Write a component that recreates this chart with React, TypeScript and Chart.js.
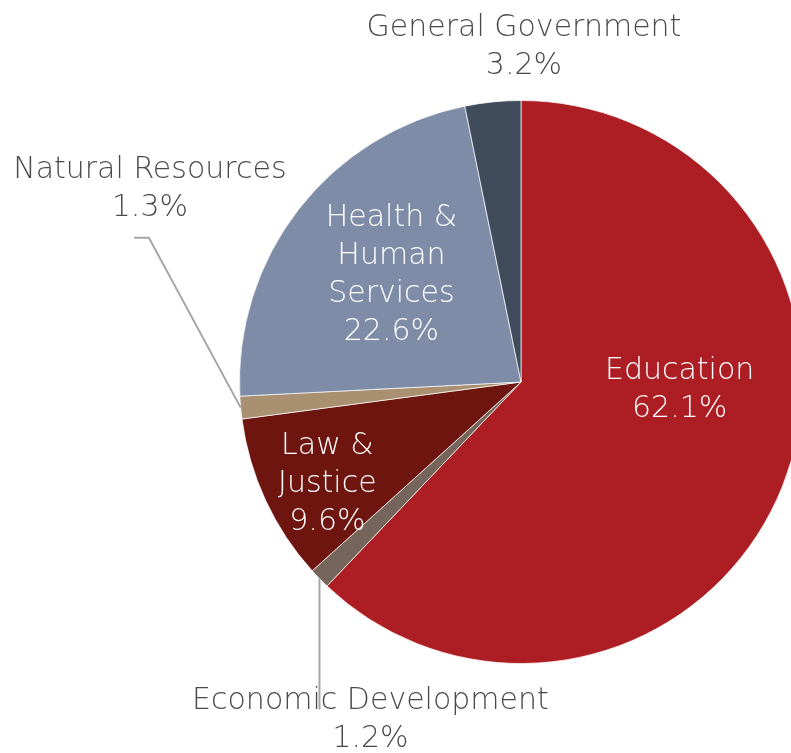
import React, { useEffect, useRef } from "react";
import { Chart, registerables } from "chart.js";

Chart.register(...registerables);

const categories = [
  "Education",
  "Economic Development",
  "Law & Justice",
  "Natural Resources",
  "Health & Human Services",
  "General Government",
];
const values = [62.1, 1.2, 9.6, 1.3, 22.6, 3.2];
const labelLines = [
  ["Education"],
  ["Economic Development"],
  ["Law &", "Justice"],
  ["Natural Resources"],
  ["Health &", "Human", "Services"],
  ["General Government"],
];
const colors = ["#AD1E24", "#75655A", "#6E1510", "#A89070", "#7F8CA8", "#404C5C"];

const FONT = "200 30px 'DejaVu Sans', sans-serif";
const LINE_H = 38;
const TEXT_DY = 2;

// label placement: polar angle (deg, canvas coords) and distance in units of radius
const placements = [
  { angle: 2.2, r: 0.564, color: "#FFFFFF" },
  { angle: 114.1, r: 1.31, color: "#4A4A4A", leader: [[0, 0.465]] },
  { angle: 152.7, r: 0.774, color: "#FFFFFF" },
  {
    angle: -152.3,
    r: 1.489,
    color: "#4A4A4A",
    leader: [
      [-0.326, -0.603],
      [-0.379, -0.603],
    ],
  },
  { angle: -140.1, r: 0.6, color: "#FFFFFF" },
  { angle: -89.5, r: 1.195, color: "#4A4A4A" },
];

const labelPlugin = {
  id: "sliceLabels",
  afterDatasetsDraw(chart: any) {
    const ctx = chart.ctx;
    const meta = chart.getDatasetMeta(0);
    const data = chart.data.datasets[0].data as number[];
    const total = data.reduce((a, b) => a + b, 0);
    meta.data.forEach((arc: any, i: number) => {
      const p = arc.getProps(["x", "y", "startAngle", "endAngle", "outerRadius"], true);
      const R = p.outerRadius;
      const pl = placements[i];
      const mid = (p.startAngle + p.endAngle) / 2;
      if (pl.leader) {
        const sx = p.x + R * Math.cos(mid);
        const sy = p.y + R * Math.sin(mid);
        ctx.save();
        ctx.strokeStyle = "#A6A6A6";
        ctx.lineWidth = 2;
        ctx.beginPath();
        ctx.moveTo(sx, sy);
        pl.leader.forEach((pt: number[]) => ctx.lineTo(sx + pt[0] * R, sy + pt[1] * R));
        ctx.stroke();
        ctx.restore();
      }
      const a = (pl.angle * Math.PI) / 180;
      const cx = p.x + pl.r * R * Math.cos(a);
      const cy = p.y + pl.r * R * Math.sin(a) + TEXT_DY;
      const lines = [...labelLines[i], ((data[i] / total) * 100).toFixed(1) + "%"];
      ctx.save();
      ctx.fillStyle = pl.color;
      ctx.font = FONT;
      ctx.textAlign = "center";
      ctx.textBaseline = "middle";
      const top = cy - ((lines.length - 1) * LINE_H) / 2;
      lines.forEach((t, k) => ctx.fillText(t, cx, top + k * LINE_H));
      ctx.restore();
    });
  },
};

export default function App() {
  const ref = useRef<HTMLCanvasElement>(null);
  useEffect(() => {
    if (!ref.current) return;
    const chart = new Chart(ref.current, {
      type: "pie",
      data: {
        labels: categories,
        datasets: [
          {
            data: values,
            backgroundColor: colors,
            borderColor: "rgba(255,255,255,0.7)",
            borderWidth: 1,
          },
        ],
      },
      options: {
        responsive: false,
        animation: false,
        layout: { padding: { left: 239, right: 27, top: 100, bottom: 89 } },
        plugins: {
          legend: { display: false },
          tooltip: { enabled: false },
        },
      },
      plugins: [labelPlugin],
    });
    return () => chart.destroy();
  }, []);
  return (
    <div
      style={{
        position: "fixed",
        left: 0,
        top: 0,
        width: 791,
        height: 753,
        overflow: "hidden",
        background: "#FFFFFF",
      }}
    >
      <canvas ref={ref} width={830} height={753} style={{ display: "block" }} />
    </div>
  );
}
